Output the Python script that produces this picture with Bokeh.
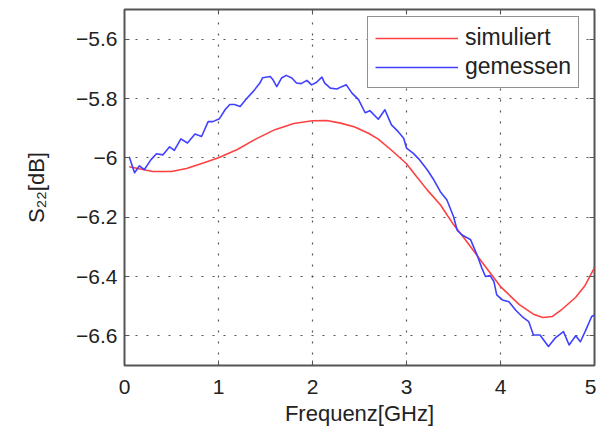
from bokeh.plotting import figure
from bokeh.models import LinearAxis, FixedTicker, Legend, LegendItem
from bokeh.embed import file_html
from bokeh.resources import INLINE

# ---- data ----
freq_sim = [0.05, 0.3, 0.5, 0.66, 0.83, 1.0, 1.2, 1.4, 1.6, 1.8, 2.0, 2.15, 2.3, 2.45,
            2.6, 2.7, 2.85, 3.0, 3.1, 3.22, 3.36, 3.5, 3.6, 3.8, 4.0, 4.2, 4.35, 4.45,
            4.55, 4.65, 4.8, 4.9, 5.0]
s22_sim = [-6.03, -6.046, -6.046, -6.036, -6.018, -6.0, -5.972, -5.936, -5.905, -5.884,
           -5.875, -5.874, -5.883, -5.896, -5.918, -5.937, -5.977, -6.02, -6.06, -6.108,
           -6.158, -6.225, -6.265, -6.35, -6.434, -6.495, -6.527, -6.538, -6.535, -6.512,
           -6.47, -6.43, -6.37]

freq_meas = [0.05, 0.107, 0.16, 0.21, 0.28, 0.34, 0.41, 0.48, 0.53, 0.60, 0.67, 0.75, 0.82,
             0.89, 0.94, 1.01, 1.07, 1.12, 1.17, 1.23, 1.30, 1.37, 1.44, 1.47, 1.55, 1.58,
             1.62, 1.67, 1.72, 1.78, 1.83, 1.88, 1.94, 1.99, 2.04, 2.10, 2.13, 2.19, 2.26,
             2.31, 2.36, 2.42, 2.49, 2.56, 2.61, 2.70, 2.77, 2.84, 2.91, 2.97, 3.00, 3.07,
             3.14, 3.22, 3.29, 3.36, 3.43, 3.50, 3.54, 3.60, 3.68, 3.75, 3.80, 3.84, 3.89,
             3.93, 3.96, 4.02, 4.09, 4.16, 4.23, 4.30, 4.35, 4.42, 4.51, 4.58, 4.67, 4.73,
             4.80, 4.85, 4.90, 4.97, 5.0]
s22_meas = [-5.996, -6.05, -6.027, -6.04, -6.007, -5.986, -5.99, -5.963, -5.975, -5.936,
            -5.95, -5.92, -5.928, -5.878, -5.878, -5.868, -5.838, -5.82, -5.82, -5.827,
            -5.80, -5.776, -5.748, -5.73, -5.726, -5.737, -5.76, -5.731, -5.722, -5.731,
            -5.748, -5.75, -5.739, -5.754, -5.746, -5.728, -5.748, -5.765, -5.768, -5.76,
            -5.754, -5.782, -5.804, -5.848, -5.841, -5.87, -5.838, -5.889, -5.911, -5.934,
            -5.967, -5.984, -6.007, -6.04, -6.074, -6.114, -6.142, -6.198, -6.245, -6.262,
            -6.275, -6.327, -6.37, -6.40, -6.397, -6.417, -6.462, -6.479, -6.485, -6.513,
            -6.535, -6.552, -6.597, -6.597, -6.636, -6.608, -6.586, -6.631, -6.60, -6.62,
            -6.586, -6.535, -6.53]

x_ticks = [0, 1, 2, 3, 4, 5]
x_tick_labels = ["0", "1", "2", "3", "4", "5"]
y_ticks = [-6.6, -6.4, -6.2, -6.0, -5.8, -5.6]
y_tick_labels = ["\u22126.6", "\u22126.4", "\u22126.2", "\u22126", "\u22125.8", "\u22125.6"]
series_names = ["simuliert", "gemessen"]
x_label = "Frequenz[GHz]"
y_label = "S\u2082\u2082[dB]"

FONT = "Liberation Sans"
TXT = "#222222"
FRAME = "#555555"
GRID = "#444444"

p = figure(frame_width=470, frame_height=356, x_range=(0, 5), y_range=(-6.7, -5.5),
           output_backend="svg", toolbar_location=None,
           min_border_left=124, min_border_right=2, min_border_top=9, min_border_bottom=10)

p.outline_line_color = FRAME
p.outline_line_width = 2
p.background_fill_color = "white"
p.border_fill_color = "white"

for ax in (p.xaxis[0], p.yaxis[0]):
    ax.axis_line_color = None
    ax.major_tick_in = 5
    ax.major_tick_out = 0
    ax.major_tick_line_color = FRAME
    ax.minor_tick_line_color = None
    ax.major_label_text_font = FONT
    ax.major_label_text_color = TXT
    ax.major_label_text_font_size = "21px"
    ax.axis_label_text_font = FONT
    ax.axis_label_text_color = TXT
    ax.axis_label_text_font_size = "22px"
    ax.axis_label_text_font_style = "normal"

p.xaxis.ticker = FixedTicker(ticks=x_ticks)
p.xaxis.major_label_overrides = dict(zip(x_ticks, x_tick_labels))
p.xaxis.major_label_standoff = 14
p.xaxis.axis_label = x_label
p.xaxis.axis_label_standoff = 4

p.yaxis.ticker = FixedTicker(ticks=y_ticks)
p.yaxis.major_label_overrides = dict(zip(y_ticks, y_tick_labels))
p.yaxis.major_label_standoff = 7
p.yaxis.axis_label = y_label
p.yaxis.axis_label_standoff = 24

top = LinearAxis(ticker=FixedTicker(ticks=x_ticks), major_tick_in=5, major_tick_out=0,
                 major_tick_line_color=FRAME, minor_tick_line_color=None,
                 axis_line_color=None, major_label_text_color=None, major_label_standoff=0)
right = LinearAxis(ticker=FixedTicker(ticks=y_ticks), major_tick_in=5, major_tick_out=0,
                   major_tick_line_color=FRAME, minor_tick_line_color=None,
                   axis_line_color=None, major_label_text_color=None, major_label_standoff=0)
p.add_layout(top, "above")
p.add_layout(right, "right")

p.xgrid.ticker = FixedTicker(ticks=x_ticks)
p.ygrid.ticker = FixedTicker(ticks=y_ticks)
for g in (p.xgrid[0], p.ygrid[0]):
    g.grid_line_color = GRID
    g.grid_line_dash = "2 9"
    g.grid_line_width = 1.2
    g.grid_line_alpha = 0.9

r_sim = p.line(freq_sim, s22_sim, line_color="#ff4040", line_width=1.6, line_join="round")
r_meas = p.line(freq_meas, s22_meas, line_color="#4040ff", line_width=1.6, line_join="round")

legend = Legend(items=[LegendItem(label=series_names[0], renderers=[r_sim]),
                       LegendItem(label=series_names[1], renderers=[r_meas])],
                location=(243, 277))
legend.label_text_font = FONT
legend.label_text_font_size = "23px"
legend.label_text_color = TXT
legend.glyph_width = 83
legend.glyph_height = 20
legend.label_standoff = 7
legend.padding = 7
legend.spacing = 2
legend.margin = 0
legend.border_line_color = "#222222"
legend.border_line_width = 1.5
legend.background_fill_color = "white"
legend.background_fill_alpha = 1.0
p.add_layout(legend)

open("out.html", "w").write(file_html(p, INLINE))
